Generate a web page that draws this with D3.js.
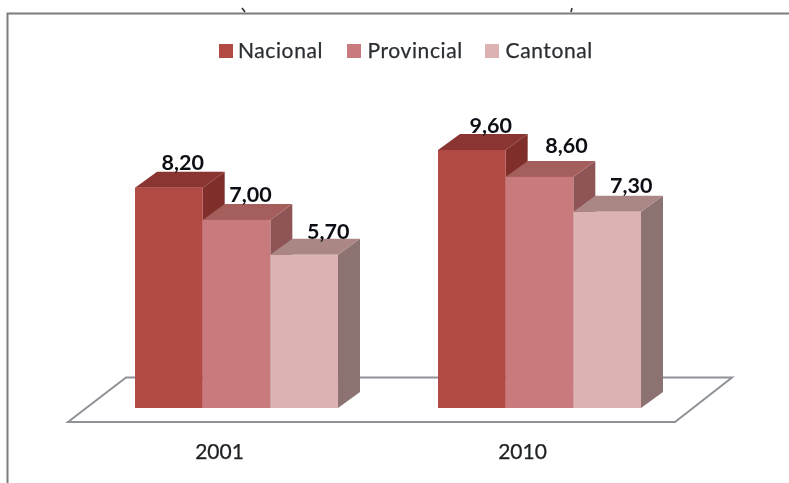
<!DOCTYPE html>
<html lang="en">

<head>
    <meta charset="utf-8">
    <title>Nacional, Provincial, Cantonal</title>
    <script src="https://d3js.org/d3.v7.min.js"></script>
</head>
<style>
 html, body { margin: 0; padding: 0; background: #fff; overflow: hidden; }
 svg { display: block; }
 text { font-family: Lato, sans-serif; fill: #2b2f33; }
</style>

<body>
    <script>

     var years = ["2001", "2010"];
     var seriesNames = ["Nacional", "Provincial", "Cantonal"];
     var nacional = [8.2, 9.6];
     var provincial = [7.0, 8.6];
     var cantonal = [5.7, 7.3];

     var seriesValues = [nacional, provincial, cantonal];

     // front, top and side face of each series
     var faces = [
         ["#b14a45", "#8a3430", "#7f2e2b"],
         ["#c97a7b", "#a45e5d", "#8f5556"],
         ["#dcb3b2", "#aa8684", "#8c7371"]
     ];

     var width = 789, height = 483;
     var baseY = 408, depthX = 22, depthY = 16;

     var svg = d3.select("body").append("svg")
                 .attr("width", width)
                 .attr("height", height);

     // the source is a soft scan, so everything is blurred a little
     svg.append("defs").append("filter")
        .attr("id", "soft")
        .append("feGaussianBlur")
        .attr("stdDeviation", 0.65);

     var chart = svg.append("g").attr("filter", "url(#soft)");

     var x = d3.scaleBand().domain(years).range([135, 641]).paddingInner(0.33).paddingOuter(0);
     var xInner = d3.scaleBand().domain(seriesNames).range([0, x.bandwidth()]);
     var y = d3.scaleLinear().domain([0, 9.6]).range([baseY, 150]);

     // chart frame, open on the right and at the bottom
     chart.append("path")
          .attr("d", "M7.5,483V13.5H789")
          .attr("fill", "none")
          .attr("stroke", "#7d7d7d")
          .attr("stroke-width", 2);

     // scraps of the cropped line of text above the frame
     chart.append("path")
          .attr("d", "M242,8l3,4M572,8l-1,4")
          .attr("fill", "none")
          .attr("stroke", "#333")
          .attr("stroke-width", 1.6);

     // floor
     chart.append("path")
          .attr("d", "M68,422L126,377.5H732L675,422Z")
          .attr("fill", "#fff")
          .attr("stroke", "#8e9297")
          .attr("stroke-width", 2);

     seriesNames.forEach(function(name, s) {
         var g = chart.append("g");
         var bars = g.selectAll("g").data(seriesValues[s]).enter().append("g");

         function x0(d, i) { return x(years[i]) + xInner(name); }
         var w = xInner.bandwidth();

         bars.append("path")
             .attr("fill", faces[s][2])
             .attr("d", function(d, i) {
                 var l = x0(d, i) + w;
                 return "M" + l + "," + y(d) + "l" + depthX + "," + (-depthY) +
                        "V" + (baseY - depthY) + "l" + (-depthX) + "," + depthY + "Z";
             });

         bars.append("path")
             .attr("fill", faces[s][1])
             .attr("d", function(d, i) {
                 return "M" + x0(d, i) + "," + y(d) + "l" + depthX + "," + (-depthY) +
                        "h" + w + "l" + (-depthX) + "," + depthY + "Z";
             });

         bars.append("rect")
             .attr("x", x0)
             .attr("y", function(d) { return y(d); })
             .attr("width", w)
             .attr("height", function(d) { return baseY - y(d); })
             .attr("fill", faces[s][0]);
     });

     // value labels sit over the back edge, not quite the same on each bar
     var nudgeX = [[14, 14, 24], [19, 27, 24]];
     var nudgeY = [[-18, -18, -16], [-17, -24, -19]];
     var fmt = function(v) { return v.toFixed(2).replace(".", ","); };

     seriesNames.forEach(function(name, s) {
         chart.selectAll(".v" + s).data(seriesValues[s]).enter().append("text")
              .attr("class", "v" + s)
              .attr("x", function(d, i) { return x(years[i]) + xInner(name) + xInner.bandwidth() / 2 + nudgeX[i][s]; })
              .attr("y", function(d, i) { return y(d) + nudgeY[i][s]; })
              .attr("text-anchor", "middle")
              .attr("font-size", 21.5)
              .attr("font-weight", 700)
              .style("fill", "#0e1114")
              .text(fmt);
     });

     // category axis, labels shifted left of the band like the floor perspective
     var axis = chart.append("g")
                     .attr("transform", "translate(-17,444)")
                     .call(d3.axisBottom(x).tickSize(0).tickPadding(0));
     axis.select(".domain").remove();
     axis.selectAll("text")
         .attr("font-size", 21)
         .style("font-family", "Lato, sans-serif")
         .style("fill", "#1d2023")
         .style("stroke", "#1d2023")
         .style("stroke-width", 0.25);

     // legend
     var legendX = [219, 347, 485];
     var legend = chart.selectAll(".legend").data(seriesNames).enter().append("g")
                       .attr("class", "legend")
                       .attr("transform", function(d, i) { return "translate(" + legendX[i] + ",44)"; });
     legend.append("rect")
           .attr("width", 14)
           .attr("height", 14)
           .attr("fill", function(d, i) { return faces[i][0]; });
     legend.append("text")
           .attr("x", function(d, i) { return i == 0 ? 19 : 20.5; })
           .attr("y", 14)
           .attr("font-size", 21)
           .attr("letter-spacing", 0.6)
           .style("stroke", "#2b2f33")
           .style("stroke-width", 0.25)
           .text(function(d) { return d; });

    </script>
</body>

</html>
